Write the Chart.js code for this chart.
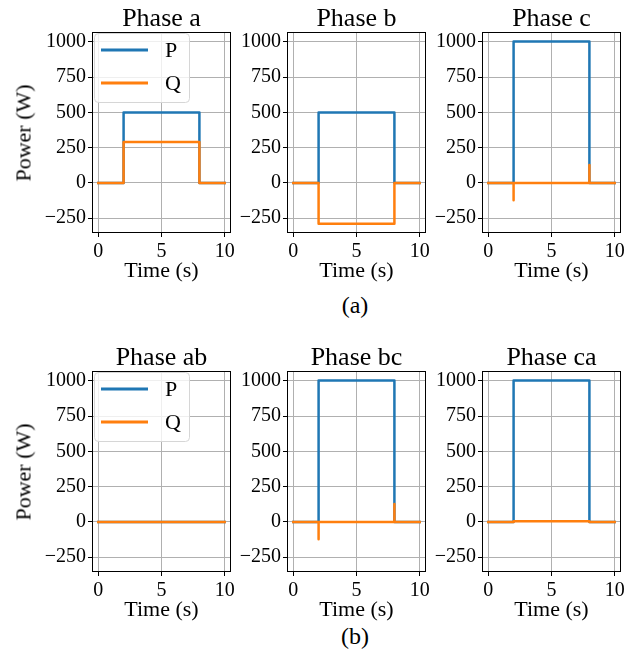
<!DOCTYPE html>
<html>
<head>
<meta charset="utf-8">
<script src="https://cdn.jsdelivr.net/npm/chart.js@4.4.0/dist/chart.umd.min.js"></script>
<style>
  body { margin: 0; background: #fff; }
  #page { position: relative; width: 643px; height: 656px; overflow: hidden; font-family: "Liberation Serif", serif; color: #000; }
  #page canvas { position: absolute; }
  .caption { position: absolute; width: 60px; text-align: center; font-size: 24px; }
  .lbl { position: absolute; text-align: center; white-space: nowrap; line-height: 1; }
</style>
</head>
<body>
<div id="page">
  <div class="caption" style="left:325px; top:292px;">(a)</div>
  <div class="caption" style="left:325px; top:623px;">(b)</div>
</div>
<script>
// time instants (s) of the step profiles
const stepTime = [0, 2, 2, 8, 8, 10];
const spikeTime = [0, 2, 2, 2, 8, 8, 8, 10];

// power values (W)
const pA = [0, 0, 500, 500, 0, 0];
const qA = [0, 0, 290, 290, 0, 0];
const pB = [0, 0, 500, 500, 0, 0];
const qB = [0, 0, -290, -290, 0, 0];
const pC = [0, 0, 1003, 1003, 0, 0];
const qC = [0, 0, -122, 0, 0, 127, 0, 0];
const pAB = [0, 0, 0, 0, 0, 0];
const qAB = [0, 0, 0, 0, 0, 0];
const pBC = [0, 0, 1003, 1003, 0, 0];
const qBC = [0, 0, -122, 0, 0, 127, 0, 0];
const pCA = [0, 0, 1003, 1003, 0, 0];
const qCA = [0, 0, 5, 5, 0, 0];

const xTicks = [0, 5, 10];
const yTicks = [-250, 0, 250, 500, 750, 1000];
const seriesNames = ['P', 'Q'];
const seriesColors = ['#1f77b4', '#ff7f0e'];

const panels = [
  { title: 'Phase a', row: 0, col: 0, pt: stepTime, p: pA, qt: stepTime, q: qA },
  { title: 'Phase b', row: 0, col: 1, pt: stepTime, p: pB, qt: stepTime, q: qB },
  { title: 'Phase c', row: 0, col: 2, pt: stepTime, p: pC, qt: spikeTime, q: qC },
  { title: 'Phase ab', row: 1, col: 0, pt: stepTime, p: pAB, qt: stepTime, q: qAB },
  { title: 'Phase bc', row: 1, col: 1, pt: stepTime, p: pBC, qt: spikeTime, q: qBC },
  { title: 'Phase ca', row: 1, col: 2, pt: stepTime, p: pCA, qt: stepTime, q: qCA }
];

const FONT = '"Liberation Serif", serif';
const plotLefts = [92, 287, 482];
const plotTops = [32, 371];
const PLOT_W = 139, PLOT_H = 201;
const Y_W = 90, TITLE_H = 32, X_H = 58, PAD_R = 8;

function toPoints(t, v) {
  return t.map((x, i) => ({ x: x, y: v[i] }));
}

function fmt(v) {
  return v < 0 ? '\u2212' + Math.abs(v) : String(v);
}

// black box round the whole plot area
const framePlugin = {
  id: 'frame',
  afterDraw(chart) {
    const a = chart.chartArea, ctx = chart.ctx;
    const l = Math.round(a.left) + 0.5, t = Math.round(a.top) + 0.5;
    const r = Math.round(a.right) - 0.5, b = Math.round(a.bottom) - 0.5;
    ctx.save();
    ctx.strokeStyle = '#000';
    ctx.lineWidth = 1;
    ctx.strokeRect(l, t, r - l, b - t);
    ctx.restore();
  }
};

// matplotlib-like legend box in the upper left corner
const boxLegendPlugin = {
  id: 'boxLegend',
  afterDatasetsDraw(chart, args, opts) {
    if (!opts.show) return;
    const a = chart.chartArea, ctx = chart.ctx;
    const x0 = Math.round(a.left) + 2, y0 = Math.round(a.top) + 1;
    ctx.save();
    ctx.beginPath();
    ctx.roundRect(x0 + 0.5, y0 + 0.5, 95, 69, 4);
    ctx.fillStyle = 'rgba(255,255,255,0.8)';
    ctx.fill();
    ctx.strokeStyle = '#d6d6d6';
    ctx.lineWidth = 1;
    ctx.stroke();
    seriesNames.forEach((name, i) => {
      const y = y0 + 17 + i * 33;
      ctx.beginPath();
      ctx.moveTo(x0 + 7, y);
      ctx.lineTo(x0 + 54, y);
      ctx.strokeStyle = seriesColors[i];
      ctx.lineWidth = 3;
      ctx.stroke();
      ctx.fillStyle = '#000';
      ctx.font = '22px ' + FONT;
      ctx.textBaseline = 'middle';
      ctx.textAlign = 'left';
      ctx.fillText(name, x0 + 71, y + 1);
    });
    ctx.restore();
  }
};

const page = document.getElementById('page');

function addLabel(text, left, top, width, size, rotate) {
  const d = document.createElement('div');
  d.className = 'lbl';
  d.textContent = text;
  d.style.left = left + 'px';
  d.style.top = top + 'px';
  d.style.width = width + 'px';
  d.style.fontSize = size + 'px';
  if (rotate) d.style.transform = 'rotate(-90deg)';
  page.appendChild(d);
}

function drawPanel(pn) {
  const canvas = document.createElement('canvas');
  const w = Y_W + PLOT_W + PAD_R;
  const h = TITLE_H + PLOT_H + X_H;
  const cLeft = plotLefts[pn.col] - Y_W;
  const cTop = plotTops[pn.row] - TITLE_H;
  canvas.width = w;
  canvas.height = h;
  canvas.style.width = w + 'px';
  canvas.style.height = h + 'px';
  canvas.style.left = cLeft + 'px';
  canvas.style.top = cTop + 'px';
  page.appendChild(canvas);

  const chart = new Chart(canvas.getContext('2d'), {
    type: 'line',
    data: {
      datasets: [
        { label: 'P', data: toPoints(pn.pt, pn.p), borderColor: seriesColors[0], order: 1 },
        { label: 'Q', data: toPoints(pn.qt, pn.q), borderColor: seriesColors[1], order: 0 }
      ]
    },
    options: {
      responsive: false,
      animation: false,
      devicePixelRatio: 1,
      layout: { padding: { left: 0, right: PAD_R, top: TITLE_H, bottom: 0 } },
      elements: {
        line: { borderWidth: 2.5, tension: 0, borderJoinStyle: 'round', borderCapStyle: 'square', fill: false },
        point: { radius: 0, hoverRadius: 0 }
      },
      plugins: {
        legend: { display: false },
        tooltip: { enabled: false },
        title: { display: false },
        boxLegend: { show: pn.col === 0 }
      },
      scales: {
        x: {
          type: 'linear', min: -0.5, max: 10.5,
          afterBuildTicks: s => { s.ticks = xTicks.map(v => ({ value: v })); },
          afterFit: s => { s.height = X_H; },
          grid: { color: '#b0b0b0', lineWidth: 1, tickColor: '#000', tickLength: 4 },
          border: { display: false },
          ticks: { color: '#000', padding: 3, maxRotation: 0, font: { family: FONT, size: 20 }, callback: v => fmt(v) }
        },
        y: {
          type: 'linear', min: -355, max: 1070,
          afterBuildTicks: s => { s.ticks = yTicks.map(v => ({ value: v })); },
          afterFit: s => { s.width = Y_W; },
          grid: { color: '#b0b0b0', lineWidth: 1, tickColor: '#000', tickLength: 4 },
          border: { display: false },
          ticks: { color: '#000', padding: 2, font: { family: FONT, size: 20 }, callback: v => fmt(v) }
        }
      }
    },
    plugins: [boxLegendPlugin, framePlugin]
  });

  // titles as page text, placed from the chart area
  const a = chart.chartArea;
  const left = cLeft + a.left, top = cTop + a.top, bottom = cTop + a.bottom;
  addLabel(pn.title, left - 20, top - 27, a.width + 40, 26, false);
  addLabel('Time (s)', left - 20, bottom + 26, a.width + 40, 22, false);
  if (pn.col === 0) {
    addLabel('Power (W)', 23 - a.height / 2, top + a.height / 2 - 11, a.height, 22, true);
  }
}

document.fonts.ready.then(() => panels.forEach(drawPanel));
</script>
</body>
</html>
